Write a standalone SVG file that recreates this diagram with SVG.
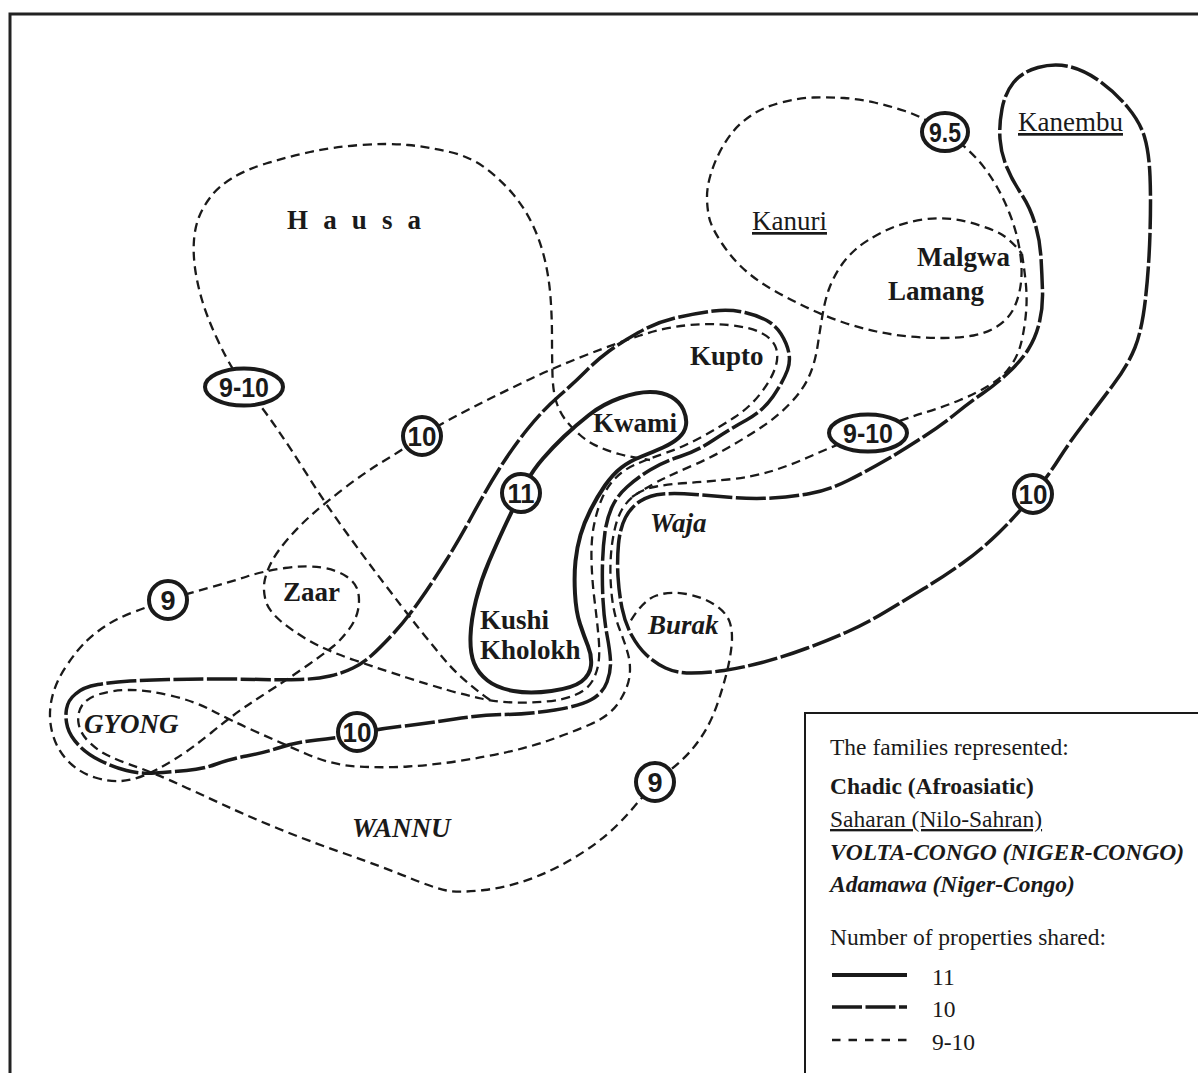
<svg xmlns="http://www.w3.org/2000/svg" width="1198" height="1073" viewBox="0 0 1198 1073">
<defs>
<style>
.c{fill:none;stroke:#1a1a1a;stroke-linecap:butt;stroke-linejoin:round}
.s{stroke-width:4}
.ld{stroke-width:3.5;stroke-dasharray:30 3.5}
.d{stroke-width:2.3;stroke-dasharray:9 5.5}
.badge{fill:#fff;stroke:#1a1a1a;stroke-width:4}
.num{font-family:"Liberation Sans",Arial,sans-serif;font-weight:bold;font-size:27px;fill:#1a1a1a;text-anchor:middle}
.lab{font-family:"Liberation Serif","Times New Roman",serif;font-size:27px;fill:#1a1a1a}
.b{font-weight:bold}
.bi{font-weight:bold;font-style:italic}
.u{text-decoration:underline;text-decoration-skip-ink:none}
.leg{font-family:"Liberation Serif","Times New Roman",serif;font-size:23.5px;fill:#1a1a1a}
</style>
</defs>
<rect width="1198" height="1073" fill="#fff"/>
<path d="M10,1073 V14 H1198" fill="none" stroke="#222" stroke-width="3"/>

<g id="connectors">
<path id="hausa" class="c d" d="M490,700 Q462,680 447,662.5 T417,626 T383,582 T344.5,530 T308,476 T276.5,428 T253,397 T235,372.5 T216.5,337.5 T202,300 T195,268 T194,240 T199,217 T210.5,197 T231.5,178.5 T266,163.5 T310,152 T360,145 T408,145 T450,152 T486,168.5 T512.5,193.5 T532,223.5 T544.5,258.5 T550.5,297 T552,337.5 T552.5,375 T556.5,402.5 T566,420.5 T580,435 T598,446.5 T619,454 T650,460"/>
<path id="kupto-zaar" class="c d" d="M412,443 Q422,436 433,429 T470.5,408.5 T525,381.5 T585,355.5 T640,335.5 T685,325.5 T728.5,325 T761.5,333 T776,348 T775,368.5 T760.5,393.5 T735,417 T701.5,437 T665.5,453 T635.5,464.5 T615,478.5 T602,498.5 T594,525 T591.5,560 T594.5,600 T598.5,636.5 T598.5,663 T592,681.5 T575,695 T546.5,701.5 T513.5,702.5 T481,698.5 T447.5,690 T406.5,677.5 T354,660 T308,640 T279.5,620 T265.5,600 T264.5,581.5 T271,563 T287,540 T311.5,515 T344.5,488 T383,461.5 T412,443 Z"/>
<path id="zaar-gyong" class="c d" d="M157.5,603.5 Q168,600 179,596.5 T210,587.5 T247,576.5 T285,568 T321.5,567.5 T346.5,576.5 T358,591.5 T358,610 T348.5,630 T333,646.5 T308,665 T275.5,687 T246.5,706 T211.5,732.5 T173.5,760 T145,775 T121.5,781 T95,777.5 T68.5,761.5 T52.5,733.5 T51.5,700 T66,666.5 T86.5,641 T107,625 T132.5,612.5 T157.5,603.5 Z"/>
<path id="kupto-gyong" class="c ld" d="M75.5,694 Q83,687 98,684.5 T130,681 T168.5,679.5 T215,679 T261.5,679.5 T300,679.5 T330,676 T353,668 T371.5,655.5 T393,634 T419,601.5 T445.5,561.5 T472.5,515 T499.5,468.5 T528,428.5 T558.5,396.5 T585.5,371.5 T608.5,351.5 T638.5,332.5 T677,317.5 T713.5,311 T745,312.5 T770,322.5 T786,343.5 T787.5,370 T773,396.5 T746.5,420 T713.5,440 T680,456.5 T650,470 T627,487 T612,507 T605,532 T602.5,563.5 T603,600 T607,635 T610.5,661 T607,682 T591.5,699.5 T555,710 T505,714.5 T455,719 T404,726 T357.5,733.5 T317,740 T280,747.5 T246.5,756 T216.5,764 T186.5,770.5 T155,773 T126.5,770.5 T100,760.5 T78.5,745 T67.5,727 T66.5,709 T75.5,694 Z"/>
<path id="kwami-kushi" class="c s" d="M515.5,504 Q521,493 527,481.5 T543,458.5 T564,436.5 T589,415 T620,398 T650,392 T671.5,397 T683.5,410 T686,425 T679,437.5 T663,447.5 T641.5,456.5 T621.5,467.5 T605,485.5 T590.5,510 T580.5,535 T575.5,561 T575,593.5 T580,624 T588,646 T591,665.5 T581.5,681.5 T551.5,691 T513.5,691 T487.5,680.5 T474,663 T470.5,636.5 T476,600 T489,561.5 T503.5,529 T515.5,504 Z"/>
<path id="kanembu" class="c ld" d="M1038,67.5 Q1054,63 1069,66.5 T1099.5,81 T1127.5,107 T1144.5,137 T1150,176 T1150,233.5 T1145.5,298.5 T1135,347.5 T1113,385 T1083.5,424 T1059.5,458 T1041.5,483.5 T1024,505.5 T998,533.5 T962,563.5 T924,588.5 T886,611.5 T848,631.5 T806,648.5 T762,662.5 T724,670.5 T691.5,673 T665.5,668 T646.5,655 T631.5,635 T622,608 T618,576.5 T618.5,544 T625.5,517.5 T640.5,501 T663,494 T695,494.5 T733.5,497.5 T772,498 T810,493.5 T848,480.5 T886,460 T924,436.5 T956.5,413 T982.5,393.5 T1008,373 T1028.5,349 T1039.5,322 T1042.5,291 T1041,257.5 T1035,223.5 T1021,193.5 T1006.5,166.5 T1000,139 T1002,109 T1013.5,82.5 T1038,67.5 Z"/>
<path id="kanuri" class="c d" d="M956,140 Q945,132 932.5,124 T905,111 T874.5,102.5 T844,98 T813.5,97.5 T781,102.5 T752.5,114.5 T733.5,131 T720,151.5 T710.5,175 T707,197 T709,217 T722,243.5 T746.5,271.5 T776.5,292 T810,309 T843.5,322.5 T876.5,331.5 T910,336.5 T943.5,338 T973.5,335.5 T997,326.5 T1012,311.5 T1019.5,291.5 T1021.5,267.5 T1018,241 T1009,212 T995,183.5 T977,159 T956,140 Z"/>
<path id="malgwa-left" class="c d" d="M632,497 Q652,484 666,477.5 T696,464 T728.5,447.5 T761,427.5 T790,403.5 T809,376.5 T817.5,346.5 T822.5,315 T829,289 T839.5,268 T855.5,249.5 T882.5,232 T923.5,219.5 T970,222.5 T1002.5,235 T1022,254"/>
<path id="malgwa-wannu-burak" class="c d" d="M1022,254 Q1026,280 1026.5,293.5 T1025,322 T1020,347 T1010,367 T990,385 T960,400 T925,412.5 T887.5,425.5 T848.5,440.5 T810,456.5 T772,471 T728,479.5 T686.5,483 T656.5,486.5 T635,495 T622,509.5 T614,532.5 T610.5,563.5 T612,597.5 T619.5,629 T628,654 T629.5,676.5 T619,702 T590,724.5 T550,740 T507.5,752 T459,761 T408,766.5 T357.5,766.5 T306.5,754 T255.5,731.5 T212,710.5 T170.5,695.5 T130,690 T100,694 T82,705.5 T78.5,723 T88.5,741.5 T107,755 T128.5,764 T155,774 T191.5,790 T231.5,808.5 T278,828.5 T344.5,853.5 T408.5,877.5 T446.5,890.5 T484.5,890 T535.5,877 T586.5,850 T633.5,807.5 T669,771 T691.5,750 T706.5,728.5 T718,702 T726.5,673.5 T731.5,646.5 T730,623 T715,605 T686.5,594 T656.5,595.5 T630,622"/>
</g>

<g id="badges">
<g id="b-hausa"><ellipse class="badge" cx="244" cy="387" rx="39" ry="18.5"/><text class="num" x="244" y="397" textLength="50" lengthAdjust="spacingAndGlyphs">9-10</text></g>
<g id="b-10a"><circle class="badge" cx="422" cy="436" r="19"/><text class="num" x="422" y="446" textLength="29" lengthAdjust="spacingAndGlyphs">10</text></g>
<g id="b-11"><circle class="badge" cx="521" cy="493" r="19"/><text class="num" x="521" y="503" textLength="27" lengthAdjust="spacingAndGlyphs">11</text></g>
<g id="b-9a"><circle class="badge" cx="168" cy="600" r="19"/><text class="num" x="168" y="610">9</text></g>
<g id="b-10b"><circle class="badge" cx="357" cy="732" r="19"/><text class="num" x="357" y="742" textLength="29" lengthAdjust="spacingAndGlyphs">10</text></g>
<g id="b-9b"><circle class="badge" cx="655" cy="782" r="19"/><text class="num" x="655" y="792">9</text></g>
<g id="b-10c"><circle class="badge" cx="1033" cy="494" r="19"/><text class="num" x="1033" y="504" textLength="29" lengthAdjust="spacingAndGlyphs">10</text></g>
<g id="b-910r"><ellipse class="badge" cx="868" cy="433" rx="39" ry="18.5"/><text class="num" x="868" y="443" textLength="50" lengthAdjust="spacingAndGlyphs">9-10</text></g>
<g id="b-95"><ellipse class="badge" cx="945" cy="132" rx="23" ry="19"/><text class="num" x="945" y="142" textLength="32" lengthAdjust="spacingAndGlyphs">9.5</text></g>
</g>

<g id="labels">
<text id="hausa-l" class="lab b" x="287" y="229" letter-spacing="4.2">H a u s a</text>
<text id="kanuri-l" class="lab u" x="752" y="230">Kanuri</text>
<text id="kanembu-l" class="lab u" x="1018" y="131">Kanembu</text>
<text id="malgwa-l" class="lab b" x="917" y="266">Malgwa</text>
<text id="lamang-l" class="lab b" x="888" y="300">Lamang</text>
<text id="kupto-l" class="lab b" x="690" y="365">Kupto</text>
<text id="kwami-l" class="lab b" x="593" y="432">Kwami</text>
<text id="kushi-l" class="lab b" x="480" y="629" font-size="26.5">Kushi</text>
<text id="kholokh-l" class="lab b" x="480" y="659" font-size="26.5">Kholokh</text>
<text id="zaar-l" class="lab b" x="283" y="601">Zaar</text>
<text id="waja-l" class="lab bi" x="650" y="532">Waja</text>
<text id="burak-l" class="lab bi" x="648" y="634">Burak</text>
<text id="gyong-l" class="lab bi" x="84" y="733" font-size="28">GYONG</text>
<text id="wannu-l" class="lab bi" x="352" y="837" font-size="28">WANNU</text>
</g>

<g id="legend">
<rect x="805" y="713" width="400" height="370" fill="#fff" stroke="#1a1a1a" stroke-width="2"/>
<text class="leg" x="830" y="755">The families represented:</text>
<text class="leg b" x="830" y="794">Chadic (Afroasiatic)</text>
<text class="leg u" x="830" y="827">Saharan (Nilo-Sahran)</text>
<text class="leg bi" x="830" y="860">VOLTA-CONGO (NIGER-CONGO)</text>
<text class="leg bi" x="830" y="892">Adamawa (Niger-Congo)</text>
<text class="leg" x="830" y="945">Number of properties shared:</text>
<line class="c s" x1="832" y1="975" x2="907" y2="975"/>
<line class="c" x1="832" y1="1007" x2="907" y2="1007" stroke-width="3.5" stroke-dasharray="30 3.5"/>
<line class="c" x1="832" y1="1040" x2="907" y2="1040" stroke-width="2.3" stroke-dasharray="8.5 8"/>
<text class="leg" x="932" y="985">11</text>
<text class="leg" x="932" y="1017">10</text>
<text class="leg" x="932" y="1050">9-10</text>
</g>
</svg>
